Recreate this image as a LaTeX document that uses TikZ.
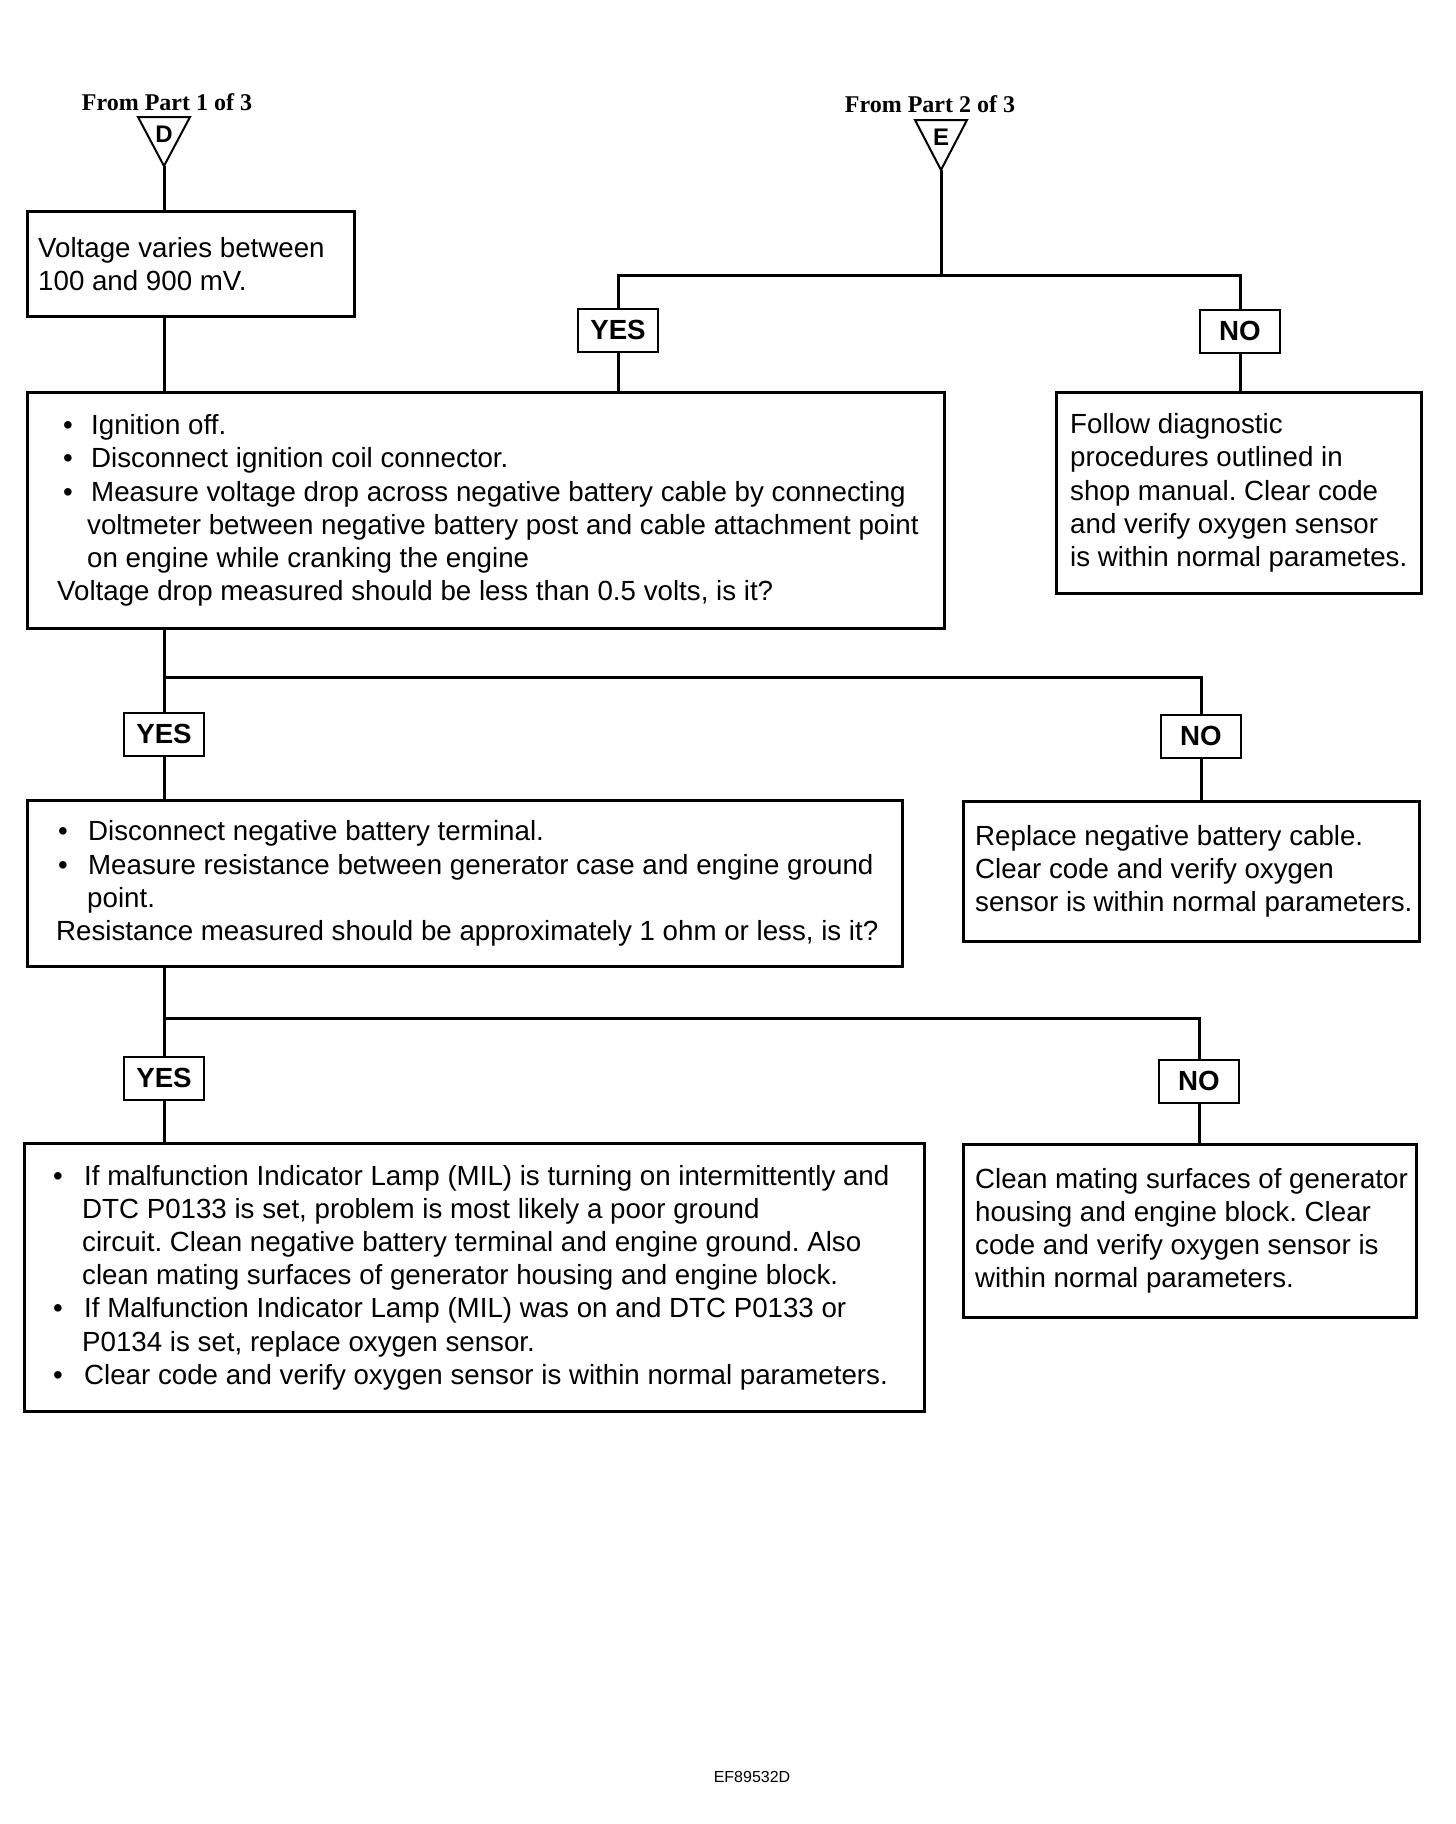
\documentclass[tikz,border=0pt]{standalone}
\usepackage{fontspec}
\setmainfont{Liberation Sans}
\newfontfamily\serifb{Liberation Serif}
\frenchspacing
\newcommand{\mybul}[2]{\makebox[#2][l]{\hspace*{#1}\textbullet}}
\tikzset{
 box/.style={draw, line width=3pt, anchor=north west, inner sep=0pt},
 txt/.style={anchor=west, align=left, inner sep=0pt, font=\fontsize{27.7}{33.2}\selectfont\frenchspacing},
 yn/.style={draw, line width=2pt, minimum width=80pt, minimum height=43pt, inner sep=0pt, font=\fontsize{27.7}{33.2}\selectfont\bfseries},
 conn/.style={line width=3pt},
 tri/.style={line width=2pt, line join=miter},
 head/.style={font=\serifb\bfseries\fontsize{24}{28}\selectfont},
 letter/.style={font=\fontsize{24}{28}\selectfont\bfseries, inner sep=0pt}
}
\begin{document}
\begin{tikzpicture}[x=1pt,y=-1pt]
\useasboundingbox (0,0) rectangle (1456,1824);
% headers
\node[head] (h1) at (167,102) {From Part 1 of 3};
\node[head] (h2) at (930,104) {From Part 2 of 3};
% triangles
\coordinate (Dtip) at (164,166);
\draw[tri] (138,117) -- (190,117) -- (Dtip) -- cycle;
\node[letter] (dl) at (164,134) {D};
\coordinate (Etip) at (941,170);
\draw[tri] (915,120) -- (967,120) -- (Etip) -- cycle;
\node[letter] (el) at (941,137) {E};
% boxes
\node[box, minimum width=327pt, minimum height=105pt] (b1) at (26,210) {};
\node[txt] (t1) at ([xshift=12pt]b1.west) {Voltage varies between\\100 and 900 mV.};
\node[box, minimum width=917pt, minimum height=236pt] (b2) at (26,391) {};
\node[txt] (t2) at ([xshift=31pt]b2.west) {\mybul{6pt}{34pt}Ignition off.\\
\mybul{6pt}{34pt}Disconnect ignition coil connector.\\
\mybul{6pt}{34pt}Measure voltage drop across negative battery cable by connecting\\
\hspace*{30pt}voltmeter between negative battery post and cable attachment point\\
\hspace*{30pt}on engine while cranking the engine\\
Voltage drop measured should be less than 0.5 volts, is it?};
\node[box, minimum width=365pt, minimum height=201pt] (b5) at (1055,391) {};
\node[txt] (t5) at ([xshift=15pt]b5.west) {Follow diagnostic\\procedures outlined in\\shop manual. Clear code\\and verify oxygen sensor\\is within normal parametes.};
\node[box, minimum width=875pt, minimum height=166pt] (b3) at (26,799) {};
\node[txt] (t3) at ([xshift=30pt]b3.west) {\mybul{2pt}{32pt}Disconnect negative battery terminal.\\
\mybul{2pt}{32pt}Measure resistance between generator case and engine ground\\
\hspace*{31pt}point.\\
Resistance measured should be approximately 1 ohm or less, is it?};
\node[box, minimum width=456pt, minimum height=140pt] (b6) at (962,800) {};
\node[txt] (t6) at ([xshift=13pt]b6.west) {Replace negative battery cable.\\Clear code and verify oxygen\\sensor is within normal parameters.};
\node[box, minimum width=900pt, minimum height=268pt] (b4) at (23,1142) {};
\node[txt] (t4) at ([xshift=30pt]b4.west) {\mybul{0pt}{31pt}If malfunction Indicator Lamp (MIL) is turning on intermittently and\\
\hspace*{29pt}DTC P0133 is set, problem is most likely a poor ground\\
\hspace*{29pt}circuit. Clean negative battery terminal and engine ground. Also\\
\hspace*{29pt}clean mating surfaces of generator housing and engine block.\\
\mybul{0pt}{31pt}If Malfunction Indicator Lamp (MIL) was on and DTC P0133 or\\
\hspace*{29pt}P0134 is set, replace oxygen sensor.\\
\mybul{0pt}{31pt}Clear code and verify oxygen sensor is within normal parameters.};
\node[box, minimum width=453pt, minimum height=173pt] (b7) at (962,1143) {};
\node[txt] (t7) at ([xshift=13pt]b7.west) {Clean mating surfaces of generator\\housing and engine block. Clear\\code and verify oxygen sensor is\\within normal parameters.};
% yes/no
\node[yn] (yes1) at (618,330) {YES};
\node[yn] (no1) at (1240,331) {NO};
\node[yn] (yes2) at (164,734) {YES};
\node[yn] (no2) at (1201,736) {NO};
\node[yn] (yes3) at (164,1078) {YES};
\node[yn] (no3) at (1199,1081) {NO};
% junctions
\coordinate (jE) at (941,275);
\coordinate (j2) at (164,677);
\coordinate (j3) at (164,1018);
% connectors
\draw[conn] (Dtip) -- (Dtip |- b1.north);
\draw[conn] (b1.south -| Dtip) -- (b2.north -| Dtip);
\draw[conn] (Etip) -- (jE);
\draw[conn] (yes1.north) -- (yes1.north |- jE) -- (no1.north |- jE) -- (no1.north);
\draw[conn] (yes1.south) -- (yes1.south |- b2.north);
\draw[conn] (no1.south) -- (no1.south |- b5.north);
\draw[conn] (b2.south -| j2) -- (j2) -- (j2 -| no2) -- (no2.north);
\draw[conn] (j2) -- (yes2.north);
\draw[conn] (yes2.south) -- (yes2.south |- b3.north);
\draw[conn] (no2.south) -- (no2.south |- b6.north);
\draw[conn] (b3.south -| j3) -- (j3) -- (j3 -| no3) -- (no3.north);
\draw[conn] (j3) -- (yes3.north);
\draw[conn] (yes3.south) -- (yes3.south |- b4.north);
\draw[conn] (no3.south) -- (no3.south |- b7.north);
% footer
\node[font=\fontsize{16}{19}\selectfont] (code) at (752,1777) {EF89532D};
\end{tikzpicture}
\end{document}
